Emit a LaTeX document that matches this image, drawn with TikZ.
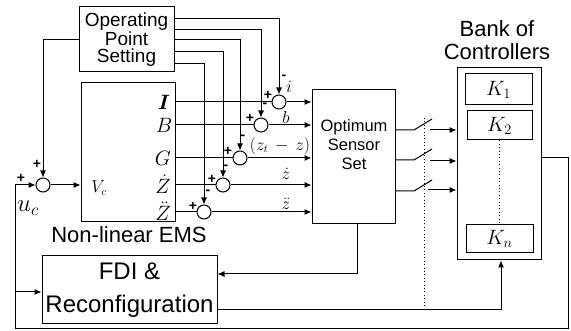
\documentclass[tikz,border=0pt]{standalone}
\usepackage{fontspec}
\usepackage{amsmath}
\setmainfont{Liberation Sans}
\usetikzlibrary{arrows.meta, positioning}
\tikzset{x=1pt, y=-1pt, % one unit is one pixel of the picture
every path/.style={line width=1pt},
blockbox/.style={draw, rectangle, inner sep=0pt, align=center},
sumnode/.style={draw, circle, minimum size=14pt, inner sep=0pt},
signal/.style={draw, -{Latex[length=7pt,width=6pt]}},
dotline/.style={draw, dash pattern=on 1pt off 2.4pt},
tag/.style={inner sep=0pt, font=\fontsize{14}{14}\selectfont\bfseries},
portlabel/.style={inner sep=0pt, font=\fontsize{20}{20}\selectfont},
linelabel/.style={inner sep=0pt, font=\fontsize{16}{16}\selectfont}}

\begin{document}
\begin{tikzpicture}
    \useasboundingbox (0,0) rectangle (571,331);
    % blocks
    \node[blockbox, minimum width=95pt, minimum height=65pt, font=\fontsize{19}{17.5}\selectfont] (osp) at (126.5,39.5) {Operating\\Point\\Setting};
    \node[blockbox, minimum width=94pt, minimum height=139pt] (ems) at (128,152.5) {};
    \node[blockbox, minimum width=83pt, minimum height=134pt] (oss) at (353.5,157) {};
    \node[inner sep=0pt, align=center, font=\fontsize{16.5}{19}\selectfont] (osstext) at (354,145) {Optimum\\Sensor\\Set};
    \node[blockbox, minimum width=84pt, minimum height=192pt] (bank) at (499,164) {};
    \node[blockbox, minimum width=67pt, minimum height=31pt] (k1) at (498.5,89.5) {\fontsize{21}{21}\selectfont $K_1$};
    \node[blockbox, minimum width=65pt, minimum height=29pt] (k2) at (499.5,125.5) {\fontsize{21}{21}\selectfont $K_2$};
    \node[blockbox, minimum width=67pt, minimum height=28pt] (kn) at (499.5,239) {\fontsize{21}{21}\selectfont $K_n$};
    \node[blockbox, minimum width=175pt, minimum height=68pt, font=\fontsize{24}{33}\selectfont] (fdi) at (129.5,290) {FDI \&\\Reconfiguration};
    \node[inner sep=0pt, font=\fontsize{22}{23}\selectfont, align=center] (banktitle) at (497,40) {Bank of\\Controllers};
    \node[inner sep=0pt, font=\fontsize{22}{22}\selectfont] (emstitle) at (129,235) {Non-linear EMS};
    % summing junctions
    \node[sumnode] (s0) at (43,185) {};
    \node[sumnode] (s1) at (279,102) {};
    \node[sumnode] (s2) at (261,125) {};
    \node[sumnode] (s3) at (240,158) {};
    \node[sumnode] (s4) at (223,185) {};
    \node[sumnode] (s5) at (204,212) {};
    % port labels
    \node[portlabel] (pi) at (164,102) {$\boldsymbol{I}$};
    \node[portlabel] (pb) at (164,125) {$B$};
    \node[portlabel] (pg) at (163,158) {$G$};
    \node[portlabel] (pz) at (163,184) {$\dot{Z}$};
    \node[portlabel] (pzz) at (163,211) {$\ddot{Z}$};
    \node[inner sep=0pt, font=\fontsize{16}{16}\selectfont] (vc) at (99,188) {$V_c$};
    \node[inner sep=0pt, font=\fontsize{27}{27}\selectfont] (uc) at (28,208) {$u_c$};
    % signal names
    \node[linelabel] (li) at (289,87) {$i$};
    \node[linelabel] (lb) at (286,118) {$b$};
    \node[linelabel] (lg) at (280,146) {$(z_t\,-\,z)$};
    \node[linelabel] (lz) at (286,174) {$\dot{z}$};
    \node[linelabel] (lzz) at (286,204) {$\ddot{z}$};
    % plus and minus signs
    \node[tag] (p0) at (21,178) {+};
    \node[tag] (p0b) at (37,164) {+};
    \node[tag] (p1) at (268,95) {+};
    \node[tag] (m1) at (284,77) {-};
    \node[tag] (p2) at (250,118) {+};
    \node[tag] (m2) at (265,105) {-};
    \node[tag] (p3) at (228,151) {+};
    \node[tag] (m3) at (243,137) {-};
    \node[tag] (p4) at (212,179) {+};
    \node[tag] (m4) at (226,167) {-};
    \node[tag] (p5) at (193,206) {+};
    \node[tag] (m5) at (208,192) {-};
    % plant outputs into the junctions and the sensor set
    \draw (ems.east |- s1) -- (s1);
    \draw (ems.east |- s2) -- (s2);
    \draw (ems.east |- s3) -- (s3);
    \draw (ems.east |- s4) -- (s4);
    \draw (ems.east |- s5) -- (s5);
    \draw[signal] (s1) -- (oss.west |- s1);
    \draw[signal] (s2) -- (oss.west |- s2);
    \draw[signal] (s3) -- (oss.west |- s3);
    \draw[signal] (s4) -- (oss.west |- s4);
    \draw[signal] (s5) -- (oss.west |- s5);
    % set points
    \coordinate (o1) at (osp.east |- 0,19);
    \coordinate (o2) at (osp.east |- 0,30);
    \coordinate (o3) at (osp.east |- 0,40);
    \coordinate (o4) at (osp.east |- 0,52);
    \coordinate (o5) at (osp.east |- 0,64);
    \draw[signal] (o1) -| (s1);
    \draw[signal] (o2) -| (s2);
    \draw[signal] (o3) -| (s3);
    \draw[signal] (o4) -| (s4);
    \draw[signal] (o5) -| (s5);
    \draw[signal] (osp.west |- 0,40) -| (s0);
    \draw[signal] (s0) -- (ems.west |- s0);
    % switches
    \coordinate (sw1) at (414,130);
    \coordinate (sw2) at (414,160);
    \coordinate (sw3) at (414,191);
    \draw (oss.east |- sw1) -- (sw1) -- ++(18,-11);
    \draw (oss.east |- sw2) -- (sw2) -- ++(18,-11);
    \draw (oss.east |- sw3) -- (sw3) -- ++(18,-11);
    \coordinate (a1) at (430,130);
    \coordinate (a2) at (430,161);
    \coordinate (a3) at (428,190);
    \draw[signal] (a1) -- (bank.west |- a1);
    \draw[signal] (a2) -- (bank.west |- a2);
    \draw[signal] (a3) -- (bank.west |- a3);
    \coordinate (d1) at (424,118);
    \coordinate (d2) at (424,306);
    \draw[dotline] (d1) -- (d2);
    \draw[dotline] (k2) -- (kn);
    % feedback loops
    \coordinate (bankout) at (bank.east |- 0,158);
    \coordinate (c1) at (568,329);
    \coordinate (c2) at (15,329);
    \coordinate (c3) at (15,292);
    \draw[signal] (bankout) -| (c1) -- (c2) |- (s0);
    \draw[signal] (c3) -- (fdi.west |- c3);
    \coordinate (c4) at (357,274);
    \draw[signal] (oss.south -| c4) -- (c4) -- (fdi.east |- c4);
    \coordinate (c5) at (501,310);
    \draw[signal] (fdi.east |- c5) -- (c5) -- (bank.south -| c5);
\end{tikzpicture}
\end{document}
